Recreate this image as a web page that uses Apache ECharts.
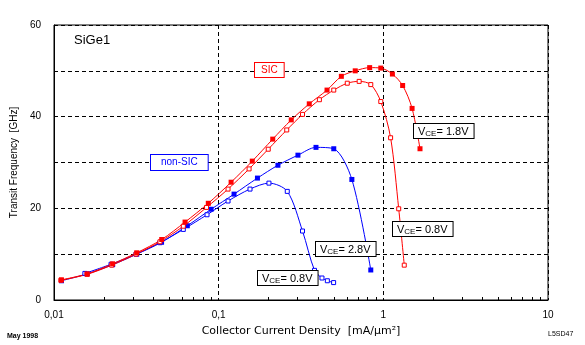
<!DOCTYPE html>
<html>
<head>
<meta charset="utf-8">
<script src="https://cdn.jsdelivr.net/npm/echarts@6/dist/echarts.min.js"></script>
<style>html,body{margin:0;padding:0;background:#fff;}#c{width:585px;height:345px;}</style>
</head>
<body>
<div id="c"></div>
<script>
// SIC, VCE = 1.8 V (filled red squares)
var sic18X = [0.0111, 0.0159, 0.0227, 0.0318, 0.0451, 0.0625, 0.0865, 0.119, 0.160, 0.213, 0.276, 0.355, 0.455, 0.556, 0.675, 0.826, 0.965, 1.135, 1.31, 1.495, 1.67];
var sic18Y = [4.4, 5.7, 7.9, 10.3, 13.2, 17.0, 21.1, 25.7, 30.3, 35.1, 39.3, 42.8, 45.8, 48.8, 50.0, 50.7, 50.6, 49.3, 46.8, 41.8, 33.0];
// SIC, VCE = 0.8 V (open red squares)
var sic08X = [0.011, 0.0159, 0.0224, 0.0315, 0.044, 0.061, 0.0844, 0.114, 0.153, 0.200, 0.259, 0.323, 0.409, 0.50, 0.604, 0.713, 0.839, 0.965, 1.107, 1.24, 1.34];
var sic08Y = [4.3, 5.6, 7.6, 10.0, 12.7, 16.1, 20.2, 24.2, 28.6, 32.9, 37.1, 40.5, 43.7, 45.8, 47.3, 47.7, 47.0, 43.3, 35.4, 19.9, 7.6];
// non-SIC, VCE = 2.8 V (filled blue squares)
var nsic28X = [0.0111, 0.0159, 0.0227, 0.0318, 0.045, 0.0645, 0.090, 0.124, 0.172, 0.229, 0.303, 0.390, 0.50, 0.644, 0.839];
var nsic28Y = [4.2, 5.7, 7.7, 10.0, 12.6, 16.2, 19.8, 23.1, 26.6, 29.4, 31.6, 33.3, 33.0, 26.3, 6.55];
// non-SIC, VCE = 0.8 V (open blue squares)
var nsic08X = [0.0154, 0.0222, 0.0315, 0.044, 0.061, 0.085, 0.114, 0.155, 0.202, 0.261, 0.323, 0.382, 0.424, 0.457, 0.499];
var nsic08Y = [5.8, 7.8, 10.0, 12.5, 15.4, 18.6, 21.6, 24.2, 25.5, 23.7, 15.05, 6.47, 4.8, 4.2, 3.8];
// axis ticks
var xMinorTicks = [0.02,0.03,0.04,0.05,0.06,0.07,0.08,0.09,0.2,0.3,0.4,0.5,0.6,0.7,0.8,0.9,2,3,4,5,6,7,8,9];
var yTicks = [0, 10, 20, 30, 40, 50, 60];

function pairs(xs, ys){ return xs.map(function(x,i){ return [x, ys[i]]; }); }
var FONT = '"Liberation Sans", Arial, sans-serif';
var RED = '#ff0000', BLUE = '#0000ff';

function lineSeries(name, xs, ys, color, open, size){
  return {
    name: name, type: 'line', smooth: 0.3, data: pairs(xs, ys),
    symbol: 'rect', symbolSize: size, showSymbol: true, showAllSymbol: true,
    lineStyle: { color: color, width: 1 },
    itemStyle: open ? { color: '#fff', borderColor: color, borderWidth: 1 } : { color: color, borderWidth: 0 },
    emphasis: { disabled: true }, z: 3
  };
}

var chart = echarts.init(document.getElementById('c'), null, { renderer: 'canvas' });
function vceLabel(txt, x, y){
  return {
    type: 'text', x: x, y: y, z: 10,
    style: {
      text: '{v|V}{s|CE}{n|= ' + txt + '}',
      rich: {
        v: { fontSize: 11, fontFamily: FONT, fill: '#000', lineHeight: 13 },
        s: { fontSize: 8, fontFamily: FONT, fill: '#000', lineHeight: 13, verticalAlign: 'bottom', padding: [3,0,0,0] },
        n: { fontSize: 11, fontFamily: FONT, fill: '#000', lineHeight: 13 }
      },
      backgroundColor: '#fff', borderColor: '#000', borderWidth: 1, padding: [1, 5, 0, 4]
    }
  };
}
var option = {
  animation: false,
  backgroundColor: '#fff',
  grid: { left: 54, right: 37, top: 25, bottom: 45, show: true, borderColor: '#000', borderWidth: 1 },
  xAxis: {
    type: 'log', logBase: 10, min: 0.01, max: 10,
    axisLine: { lineStyle: { color: '#000', width: 1 } },
    axisTick: { show: false },
    axisLabel: { color: '#000', fontSize: 10, fontFamily: FONT, margin: 10,
      formatter: function(v){ var s = v >= 1 ? String(Math.round(v)) : String(+v.toPrecision(1)); return s.replace('.', ','); } },
    splitLine: { show: true, lineStyle: { color: '#000', type: [4, 3], width: 1 } },
    name: 'Collector Current Density  [mA/\u00b5m\u00b2]', nameLocation: 'middle', nameGap: 26,
    nameTextStyle: { color: '#000', fontSize: 11, fontFamily: '"DejaVu Sans", sans-serif' }
  },
  yAxis: {
    type: 'value', min: 0, max: 60, interval: 10,
    axisLine: { show: true, lineStyle: { color: '#000', width: 1 } },
    axisTick: { show: true, inside: true, length: 3, lineStyle: { color: '#000' } },
    axisLabel: { color: '#000', fontSize: 10, fontFamily: FONT, margin: 13,
      formatter: function(v){ return (v % 20 === 0) ? String(v) : ''; } },
    splitLine: { show: true, lineStyle: { color: '#000', type: [4, 3], width: 1 } },
    name: 'Transit Frequency  [GHz]', nameLocation: 'middle', nameGap: 35,
    nameTextStyle: { color: '#000', fontSize: 10, fontFamily: FONT }
  },
  series: [
    {
      type: 'custom', silent: true, z: 5,
      data: xMinorTicks.map(function(v){ return [v, 0]; }),
      renderItem: function(params, api){
        var p = api.coord([api.value(0), 0]);
        var x = Math.round(p[0]) + 0.5;
        return { type: 'line', shape: { x1: x, y1: p[1], x2: x, y2: p[1] - 3 }, style: { stroke: '#000', lineWidth: 1 } };
      }
    },
    lineSeries('non-SIC 0.8V', nsic08X, nsic08Y, BLUE, true, 4),
    lineSeries('non-SIC 2.8V', nsic28X, nsic28Y, BLUE, false, 5),
    lineSeries('SIC 0.8V', sic08X, sic08Y, RED, true, 4),
    lineSeries('SIC 1.8V', sic18X, sic18Y, RED, false, 5)
  ],
  graphic: [
    { type: 'text', x: 74, y: 34, style: { text: 'SiGe1', font: '13px ' + FONT, fill: '#000' } },
    { type: 'text', x: 255, y: 63, z: 10, style: { text: 'SIC', font: '10px ' + FONT, fill: RED,
      backgroundColor: '#fff', borderColor: RED, borderWidth: 1, padding: [1, 6, 1, 6], lineHeight: 12 } },
    { type: 'text', x: 151, y: 155, z: 10, style: { text: 'non-SIC', font: '10px ' + FONT, fill: BLUE,
      backgroundColor: '#fff', borderColor: BLUE, borderWidth: 1, padding: [1, 10, 1, 10], lineHeight: 13 } },
    vceLabel('1.8V', 414, 124),
    vceLabel('0.8V', 393, 222),
    vceLabel('2.8V', 316, 242),
    vceLabel('0.8V', 258, 271),
    { type: 'text', x: 7, y: 333, style: { text: 'May 1998', font: 'bold 7px ' + FONT, fill: '#000' } },
    { type: 'text', x: 548, y: 331, style: { text: 'L5SD47', font: '7px ' + FONT, fill: '#000' } }
  ]
};
chart.setOption(option);
</script>
</body>
</html>
